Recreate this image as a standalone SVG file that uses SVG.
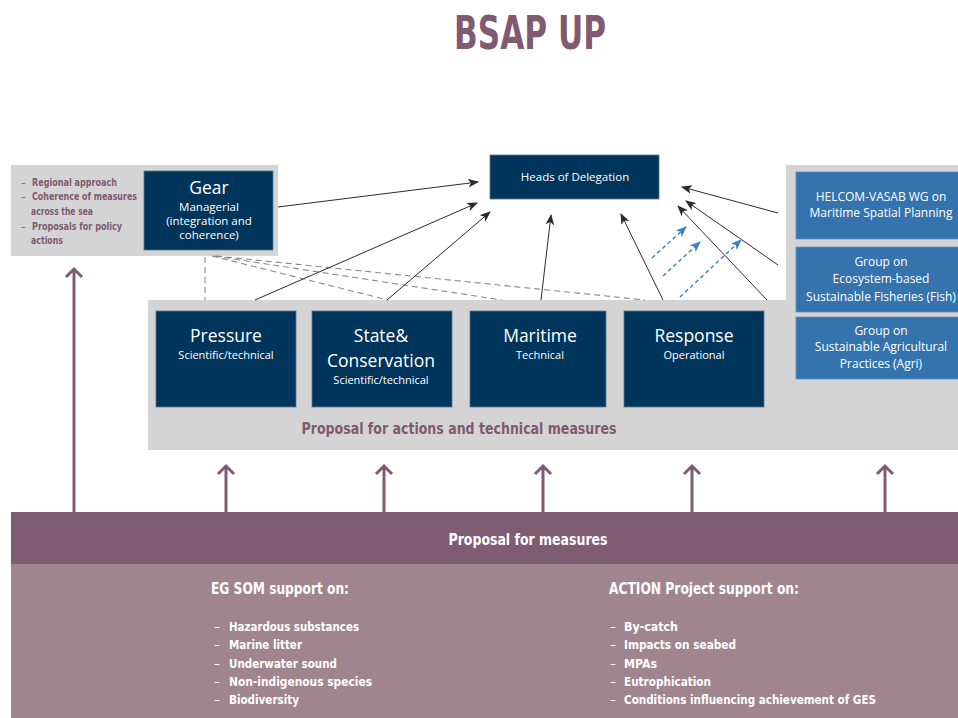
<svg xmlns="http://www.w3.org/2000/svg" width="958" height="718" viewBox="0 0 958 718">
  <defs>
    <style>
      .panel { fill: #d4d4d4; }
      .navy { fill: #00355b; stroke: #5b7890; stroke-width: 0.8; }
      .blue { fill: #3473ad; stroke: #5d8fbf; stroke-width: 0.8; }
      .cond { font-family: "Liberation Sans Narrow", "DejaVu Sans Condensed", "Liberation Sans", sans-serif; font-weight: bold; }
      .plum { fill: #7f5a70; }
      .white { fill: #ffffff; }
      .box-title { font-family: "Open Sans", "Noto Sans", sans-serif; font-size: 17.5px; fill: #ffffff; text-anchor: middle; }
      .box-sub { font-family: "Open Sans", "Noto Sans", sans-serif; font-size: 11px; fill: #ffffff; text-anchor: middle; }
      .box-text { font-family: "Open Sans", "Noto Sans", sans-serif; font-size: 11.5px; fill: #ffffff; text-anchor: middle; }
      .group-text { font-family: "Open Sans", "Noto Sans", sans-serif; font-size: 12px; fill: #ffffff; text-anchor: middle; }
      .link { stroke: #2b2b2b; stroke-width: 1; fill: none; marker-end: url(#head-black); }
      .feed { stroke: #3b7fc0; stroke-width: 1.4; stroke-dasharray: 4 3; fill: none; marker-end: url(#head-blue); }
      .tie { stroke: #8a8a8a; stroke-width: 1.1; stroke-dasharray: 6 4; fill: none; }
      .up { stroke: #7f5c71; stroke-width: 3; fill: none; }
    </style>
    <marker id="head-black" viewBox="0 0 10 8" refX="9" refY="4" markerWidth="11" markerHeight="9" markerUnits="userSpaceOnUse" orient="auto">
      <path d="M0,0 L10,4 L0,8 L2.5,4 z" fill="#2b2b2b"/>
    </marker>
    <marker id="head-blue" viewBox="0 0 10 8" refX="9" refY="4" markerWidth="11" markerHeight="9" markerUnits="userSpaceOnUse" orient="auto">
      <path d="M0,0 L10,4 L0,8 L2.5,4 z" fill="#3b7fc0"/>
    </marker>
  </defs>

  <rect width="958" height="718" fill="#ffffff"/>

  <!-- Title -->
  <text x="530" y="49" class="cond plum" font-size="47" text-anchor="middle" textLength="152" lengthAdjust="spacingAndGlyphs">BSAP UP</text>

  <!-- Background panels -->
  <rect class="panel" x="11" y="165" width="267" height="91"/>
  <rect class="panel" x="786" y="165" width="172" height="230"/>
  <rect class="panel" x="148" y="300" width="810" height="150"/>

  <!-- Bottom band -->
  <g id="proposal-for-measures">
    <rect x="11" y="512" width="947" height="52" fill="#7f5c71"/>
    <rect x="11" y="564" width="947" height="154" fill="#a0858f"/>
    <text x="528" y="545" class="cond white" font-size="16" text-anchor="middle" textLength="159" lengthAdjust="spacingAndGlyphs">Proposal for measures</text>
  </g>

  <g id="eg-som" class="cond white">
    <text x="211" y="594" font-size="16" textLength="138" lengthAdjust="spacingAndGlyphs">EG SOM support on:</text>
    <g font-size="13">
      <text x="214" y="631" font-weight="normal">–</text><text x="229" y="631" textLength="130" lengthAdjust="spacingAndGlyphs">Hazardous substances</text>
      <text x="214" y="649" font-weight="normal">–</text><text x="229" y="649" textLength="73" lengthAdjust="spacingAndGlyphs">Marine litter</text>
      <text x="214" y="668" font-weight="normal">–</text><text x="229" y="668" textLength="108" lengthAdjust="spacingAndGlyphs">Underwater sound</text>
      <text x="214" y="686" font-weight="normal">–</text><text x="229" y="686" textLength="143" lengthAdjust="spacingAndGlyphs">Non-indigenous species</text>
      <text x="214" y="704" font-weight="normal">–</text><text x="229" y="704" textLength="70" lengthAdjust="spacingAndGlyphs">Biodiversity</text>
    </g>
  </g>

  <g id="action-project" class="cond white">
    <text x="609" y="594" font-size="16" textLength="190" lengthAdjust="spacingAndGlyphs">ACTION Project support on:</text>
    <g font-size="13">
      <text x="610" y="631" font-weight="normal">–</text><text x="624" y="631" textLength="54" lengthAdjust="spacingAndGlyphs">By-catch</text>
      <text x="610" y="649" font-weight="normal">–</text><text x="624" y="649" textLength="112" lengthAdjust="spacingAndGlyphs">Impacts on seabed</text>
      <text x="610" y="668" font-weight="normal">–</text><text x="624" y="668" textLength="33" lengthAdjust="spacingAndGlyphs">MPAs</text>
      <text x="610" y="686" font-weight="normal">–</text><text x="624" y="686" textLength="87" lengthAdjust="spacingAndGlyphs">Eutrophication</text>
      <text x="610" y="704" font-weight="normal">–</text><text x="624" y="704" textLength="252" lengthAdjust="spacingAndGlyphs">Conditions influencing achievement of GES</text>
    </g>
  </g>

  <!-- Connectors -->
  <g id="connectors">
    <!-- coordination ties from Gear -->
    <line class="tie" x1="205" y1="257" x2="205" y2="300"/>
    <line class="tie" x1="212" y1="256" x2="388" y2="300"/>
    <line class="tie" x1="214" y1="256" x2="502" y2="300"/>
    <line class="tie" x1="216" y1="256" x2="645" y2="300"/>

    <!-- reporting lines to Heads of Delegation -->
    <line class="link" x1="278" y1="207" x2="478" y2="182"/>
    <line class="link" x1="255" y1="300" x2="477" y2="203"/>
    <line class="link" x1="387" y1="300" x2="490" y2="212"/>
    <line class="link" x1="541" y1="300" x2="551" y2="215"/>
    <line class="link" x1="663" y1="300" x2="621" y2="214"/>
    <line class="link" x1="767" y1="300" x2="678" y2="206"/>
    <line class="link" x1="778" y1="265" x2="686" y2="201"/>
    <line class="link" x1="778" y1="213" x2="682" y2="187"/>

    <!-- support from the thematic groups -->
    <line class="feed" x1="652" y1="258" x2="686" y2="227"/>
    <line class="feed" x1="663" y1="276" x2="700" y2="242"/>
    <line class="feed" x1="680" y1="297" x2="741" y2="240"/>

    <!-- upward feeds from the proposal for measures -->
    <path class="up" d="M74,512 V269 M66,277 L74,269 L82,277"/>
    <path class="up" d="M226,512 V466 M218,474 L226,466 L234,474"/>
    <path class="up" d="M384,512 V466 M376,474 L384,466 L392,474"/>
    <path class="up" d="M543,512 V466 M535,474 L543,466 L551,474"/>
    <path class="up" d="M692,512 V466 M684,474 L692,466 L700,474"/>
    <path class="up" d="M885,512 V466 M877,474 L885,466 L893,474"/>
  </g>

  <!-- Left panel notes -->
  <g id="gear-notes" class="cond plum" font-size="10.5">
    <text x="21" y="186" font-weight="normal">–</text><text x="32" y="186" textLength="85" lengthAdjust="spacingAndGlyphs">Regional approach</text>
    <text x="21" y="200" font-weight="normal">–</text><text x="32" y="200" textLength="105" lengthAdjust="spacingAndGlyphs">Coherence of measures</text>
    <text x="31" y="215" textLength="62" lengthAdjust="spacingAndGlyphs">across the sea</text>
    <text x="21" y="230" font-weight="normal">–</text><text x="32" y="230" textLength="90" lengthAdjust="spacingAndGlyphs">Proposals for policy</text>
    <text x="31" y="244" textLength="32" lengthAdjust="spacingAndGlyphs">actions</text>
  </g>

  <g id="gear">
    <rect class="navy" x="144" y="171" width="129" height="79"/>
    <text x="209" y="194" class="box-title">Gear</text>
    <text x="209" y="211" class="box-text" font-size="12">Managerial</text>
    <text x="209" y="225" class="box-text" font-size="12">(integration and</text>
    <text x="209" y="239" class="box-text" font-size="12">coherence)</text>
  </g>

  <g id="heads-of-delegation">
    <rect class="navy" x="490" y="155" width="169" height="44"/>
    <text x="575" y="181" class="box-text">Heads of Delegation</text>
  </g>

  <g id="pressure">
    <rect class="navy" x="156" y="311" width="140" height="96"/>
    <text x="226" y="342" class="box-title">Pressure</text>
    <text x="226" y="359" class="box-sub">Scientific/technical</text>
  </g>

  <g id="state-conservation">
    <rect class="navy" x="312" y="311" width="140" height="96"/>
    <text x="381" y="342" class="box-title">State&amp;</text>
    <text x="381" y="367" class="box-title">Conservation</text>
    <text x="381" y="384" class="box-sub">Scientific/technical</text>
  </g>

  <g id="maritime">
    <rect class="navy" x="470" y="311" width="136" height="96"/>
    <text x="540" y="342" class="box-title">Maritime</text>
    <text x="540" y="359" class="box-sub">Technical</text>
  </g>

  <g id="response">
    <rect class="navy" x="624" y="311" width="140" height="96"/>
    <text x="694" y="342" class="box-title">Response</text>
    <text x="694" y="359" class="box-sub">Operational</text>
  </g>

  <text x="459" y="434" class="cond plum" font-size="16" text-anchor="middle" textLength="315" lengthAdjust="spacingAndGlyphs">Proposal for actions and technical measures</text>

  <g id="msp-wg">
    <rect class="blue" x="796" y="172" width="166" height="67"/>
    <text x="881" y="201" class="group-text">HELCOM-VASAB WG on</text>
    <text x="881" y="217" class="group-text">Maritime Spatial Planning</text>
  </g>

  <g id="fish-group">
    <rect class="blue" x="796" y="247" width="166" height="65"/>
    <text x="881" y="266" class="group-text">Group on</text>
    <text x="881" y="283" class="group-text">Ecosystem-based</text>
    <text x="881" y="301" class="group-text">Sustainable Fisheries (Fish)</text>
  </g>

  <g id="agri-group">
    <rect class="blue" x="796" y="317" width="166" height="62"/>
    <text x="881" y="335" class="group-text">Group on</text>
    <text x="881" y="351" class="group-text">Sustainable Agricultural</text>
    <text x="881" y="368" class="group-text">Practices (Agri)</text>
  </g>
</svg>
